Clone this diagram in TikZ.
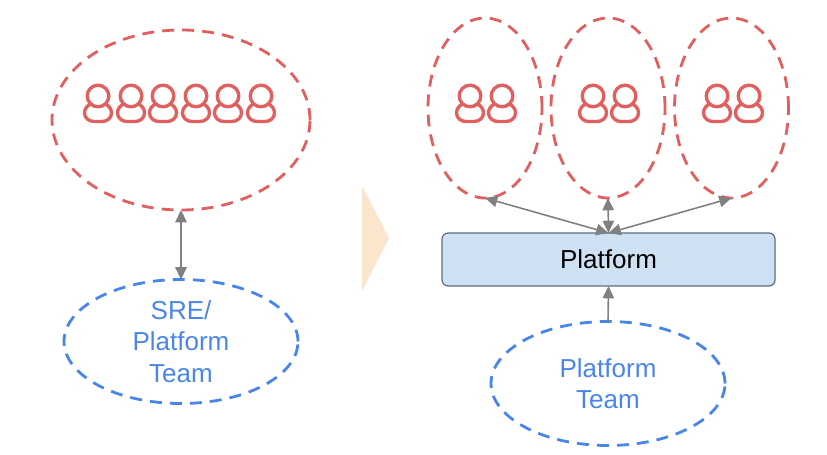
\documentclass[tikz,border=0pt]{standalone}
\usepackage{fontspec}
\setmainfont{Liberation Sans}
\usepackage{xcolor}
\usetikzlibrary{arrows.meta, shapes.geometric, positioning}

\definecolor{teamred}{HTML}{E06060}
\definecolor{teamblue}{HTML}{4A86E8}
\definecolor{linkgray}{HTML}{808080}
\definecolor{platfill}{HTML}{CFE2F3}
\definecolor{platline}{HTML}{5B6B85}
\definecolor{shiftfill}{HTML}{FCE5CD}

\tikzset{
    teamoval/.style={draw, ellipse, inner sep=0pt, outer sep=0pt, line width=1.6pt, dash pattern=on 6.8pt off 4.6pt},
    redoval/.style={teamoval, draw=teamred},
    blueoval/.style={teamoval, draw=teamblue, text=teamblue, align=center, minimum width=234*0.02cm, minimum height=124*0.02cm, font=\fontsize{14.8}{17.8}\selectfont},
    link/.style={draw=linkgray, fill=linkgray, line width=0.9pt},
    person/.pic={
        \draw[teamred, line width=1.9pt] (0,0) circle (10.8);
        \draw[teamred, line width=1.9pt] (-7.5,8) .. controls (-10.5,9.5) and (-13.5,12.5) .. (-13.5,17)
            .. controls (-13.5,22) and (-9,25.5) .. (-4,25.5) -- (4,25.5)
            .. controls (9,25.5) and (13.5,22) .. (13.5,17)
            .. controls (13.5,12.5) and (10.5,9.5) .. (7.5,8);
    }
}

\begin{document}
\begin{tikzpicture}[>={Triangle[length=7pt, width=6.5pt]}, x=0.02cm, y=-0.02cm]

    \useasboundingbox (0,0) rectangle (827,455);

    % =================================================================
    % 1. LEFT SIDE
    % =================================================================
    \node[redoval, minimum width=258*0.02cm, minimum height=180*0.02cm] (devs) at (181,120) {};
    \node[blueoval] (sre) at (181,341.5) {SRE/\\Platform\\Team};

    \foreach \px in {98, 131, 163, 196, 228, 261}
        \pic at (\px,96) {person};

    \draw[<->, link] (devs.south) -- (sre.north);

    % =================================================================
    % 2. ARROW SHAPE IN THE MIDDLE
    % =================================================================
    \fill[shiftfill] (362,186) -- (389,238) -- (362,291) -- cycle;

    % =================================================================
    % 3. RIGHT SIDE
    % =================================================================
    \node[redoval, minimum width=114*0.02cm, minimum height=180*0.02cm] (squadA) at (485,108) {};
    \node[redoval, minimum width=114*0.02cm, minimum height=180*0.02cm] (squadB) at (608,108) {};
    \node[redoval, minimum width=114*0.02cm, minimum height=180*0.02cm] (squadC) at (731.5,108) {};

    \foreach \px in {470, 502, 593, 625, 717, 749}
        \pic at (\px,96) {person};

    \node[draw=platline, fill=platfill, rounded corners=3.5pt, line width=0.7pt, outer sep=0pt,
          minimum width=333*0.02cm, minimum height=53*0.02cm, font=\fontsize{14.8}{17.8}\selectfont] (platform) at (608.5,259.5) {Platform};
    \node[blueoval] (platteam) at (608,383.5) {Platform\\Team};

    % =================================================================
    % 4. CONNECTORS
    % =================================================================
    \draw[<->, link] (platform.north) -- (squadA.south);
    \draw[<->, link] (platform.north) -- (squadB.south);
    \draw[<->, link] (platform.north) -- (squadC.south);
    \draw[->, link] (platteam.north) -- (platform.south);

\end{tikzpicture}
\end{document}
